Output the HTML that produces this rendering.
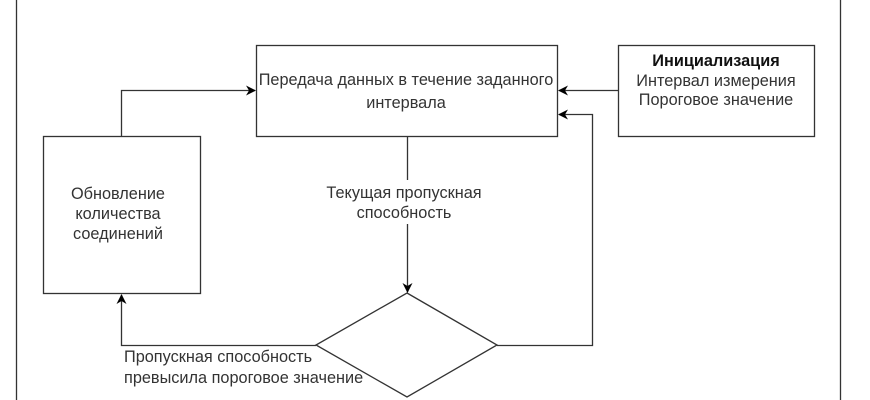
<!DOCTYPE html>
<html><head><meta charset="utf-8"><style>
html,body{margin:0;padding:0;background:#fff;width:870px;height:400px;overflow:hidden}
svg text{font-family:"Liberation Sans",sans-serif;font-size:16.3px;fill:#333}
</style></head><body>
<svg width="870" height="400" viewBox="0 0 870 400" xmlns="http://www.w3.org/2000/svg">
<defs><marker id="a" markerWidth="10" markerHeight="10" refX="9" refY="5" orient="auto" markerUnits="userSpaceOnUse"><path d="M0,0 L10,5 L0,10 L3,5 Z" fill="#000"/></marker></defs>
<g stroke="#333" stroke-width="1.3" fill="none">
<line x1="16.5" y1="0" x2="16.5" y2="400"/>
<line x1="840.5" y1="0" x2="840.5" y2="400"/>
<rect x="43.5" y="136.5" width="157" height="157" fill="#fff"/>
<rect x="256.5" y="45.5" width="301" height="91" fill="#fff"/>
<rect x="618.5" y="45.5" width="196" height="91" fill="#fff"/>
<polygon points="407,293 497,345 407,397 316,345" fill="#fff"/>
<polyline points="121.5,136 121.5,90.5 255,90.5" marker-end="url(#a)"/>
<line x1="618" y1="90.5" x2="559" y2="90.5" marker-end="url(#a)"/>
<polyline points="497,345.5 592.5,345.5 592.5,114.5 559,114.5" marker-end="url(#a)"/>
<line x1="407.5" y1="137" x2="407.5" y2="180"/>
<line x1="407.5" y1="224" x2="407.5" y2="292" marker-end="url(#a)"/>
<polyline points="316,345.5 121.5,345.5 121.5,295" marker-end="url(#a)"/>
</g>
<text x="406" y="85" text-anchor="middle">Передача данных в течение заданного</text>
<text x="406" y="108" text-anchor="middle">интервала</text>
<text x="716" y="66" text-anchor="middle" font-weight="bold" style="fill:#111">Инициализация</text>
<text x="716" y="86" text-anchor="middle">Интервал измерения</text>
<text x="716" y="105" text-anchor="middle">Пороговое значение</text>
<text x="118" y="199" text-anchor="middle">Обновление</text>
<text x="118" y="219" text-anchor="middle">количества</text>
<text x="118" y="239" text-anchor="middle">соединений</text>
<text x="404" y="198" text-anchor="middle">Текущая пропускная</text>
<text x="404" y="218" text-anchor="middle">способность</text>
<text x="124" y="362">Пропускная способность</text>
<text x="124" y="383">превысила пороговое значение</text>
</svg>
</body></html>
